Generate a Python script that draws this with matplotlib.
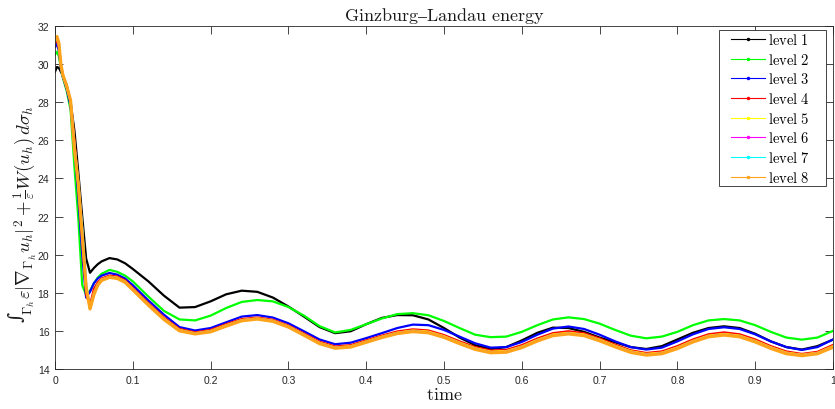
import matplotlib
matplotlib.use("Agg")
import matplotlib.pyplot as plt
from matplotlib.lines import Line2D
from matplotlib.patches import Rectangle

plt.rcParams['mathtext.fontset'] = 'cm'

time = [0, 0.0025, 0.005, 0.0075, 0.01, 0.015, 0.02, 0.025, 0.03, 0.035, 0.04, 0.045,
        0.05, 0.055, 0.06, 0.07, 0.08, 0.09,
        0.10, 0.12, 0.14, 0.16, 0.18, 0.20, 0.22, 0.24, 0.26, 0.28, 0.30, 0.32, 0.34,
        0.36, 0.38, 0.40, 0.42, 0.44, 0.46, 0.48, 0.50, 0.52, 0.54, 0.56, 0.58, 0.60,
        0.62, 0.64, 0.66, 0.68, 0.70, 0.72, 0.74, 0.76, 0.78, 0.80, 0.82, 0.84, 0.86,
        0.88, 0.90, 0.92, 0.94, 0.96, 0.98, 1.00]

level1 = [29.6, 29.85, 29.8, 29.6, 29.4, 28.9, 28.0, 26.5, 24.3, 22.0, 19.8, 19.05,
          19.3, 19.5, 19.65, 19.82, 19.75, 19.55,
          19.25, 18.6, 17.85, 17.22, 17.25, 17.55, 17.92, 18.11, 18.05, 17.75, 17.28, 16.75, 16.2,
          15.88, 15.98, 16.35, 16.68, 16.83, 16.82, 16.6, 16.15, 15.65, 15.25, 15.05, 15.15, 15.5,
          15.9, 16.17, 16.15, 15.95, 15.65, 15.4, 15.15, 15.05, 15.2, 15.55, 15.9, 16.15, 16.24,
          16.15, 15.85, 15.45, 15.15, 15.02, 15.2, 15.54]

level2 = [30.5, 30.65, 30.4, 29.8, 29.3, 28.6, 27.6, 24.6, 21.9, 18.4, 17.88, 18.1,
          18.5, 18.8, 19.0, 19.2, 19.1, 18.9,
          18.6, 17.8, 17.05, 16.6, 16.55, 16.8, 17.2, 17.52, 17.62, 17.55, 17.25, 16.8, 16.25,
          15.92, 16.05, 16.35, 16.65, 16.88, 16.93, 16.82, 16.52, 16.15, 15.8, 15.67, 15.7, 15.95,
          16.3, 16.6, 16.71, 16.62, 16.38, 16.05, 15.75, 15.61, 15.7, 15.95, 16.3, 16.55, 16.62,
          16.55, 16.3, 15.95, 15.65, 15.54, 15.65, 16.0]

level3 = [30.9, 31.05, 30.7, 29.8, 29.35, 28.7, 27.8, 25.6, 23.0, 20.0, 17.75, 18.05,
          18.5, 18.75, 18.9, 19.04, 18.95, 18.75,
          18.4, 17.6, 16.85, 16.2, 16.02, 16.15, 16.45, 16.75, 16.83, 16.7, 16.4, 15.98, 15.55,
          15.3, 15.38, 15.62, 15.88, 16.15, 16.33, 16.3, 16.05, 15.7, 15.35, 15.12, 15.15, 15.42,
          15.8, 16.12, 16.23, 16.1, 15.8, 15.45, 15.15, 15.02, 15.12, 15.45, 15.82, 16.1, 16.19,
          16.1, 15.82, 15.45, 15.15, 15.0, 15.15, 15.55]

level4 = [31.1, 31.28, 30.9, 29.9, 29.4, 28.8, 28.0, 26.0, 23.5, 20.8, 17.9, 17.35,
          18.2, 18.55, 18.75, 18.9, 18.85, 18.65,
          18.25, 17.45, 16.7, 16.1, 15.92, 16.05, 16.35, 16.62, 16.7, 16.58, 16.28, 15.86, 15.43,
          15.18, 15.25, 15.5, 15.75, 15.97, 16.08, 16.02, 15.78, 15.45, 15.15, 14.97, 15.0, 15.25,
          15.6, 15.88, 15.98, 15.88, 15.6, 15.28, 14.98, 14.84, 14.92, 15.2, 15.55, 15.82, 15.92,
          15.82, 15.55, 15.2, 14.92, 14.79, 14.9, 15.26]

level5 = [31.2, 31.36, 31.0, 29.95, 29.42, 28.82, 28.05, 25.8, 23.7, 21.2, 18.2, 17.22,
          18.0, 18.45, 18.7, 18.85, 18.8, 18.6,
          18.2, 17.4, 16.65, 16.05, 15.88, 16.0, 16.3, 16.57, 16.66, 16.54, 16.24, 15.81, 15.38,
          15.13, 15.2, 15.45, 15.7, 15.91, 16.02, 15.96, 15.72, 15.39, 15.09, 14.91, 14.94, 15.18,
          15.53, 15.81, 15.9, 15.81, 15.54, 15.22, 14.93, 14.79, 14.86, 15.13, 15.48, 15.75, 15.84,
          15.75, 15.48, 15.14, 14.86, 14.75, 14.85, 15.2]

level6 = [31.25, 31.4, 31.05, 29.98, 29.44, 28.84, 28.08, 25.7, 23.75, 21.3, 18.4, 17.18,
          17.95, 18.42, 18.67, 18.83, 18.77, 18.57,
          18.17, 17.37, 16.62, 16.02, 15.86, 15.97, 16.27, 16.55, 16.64, 16.52, 16.22, 15.79, 15.35,
          15.11, 15.17, 15.42, 15.67, 15.88, 15.98, 15.92, 15.68, 15.35, 15.05, 14.87, 14.9, 15.14,
          15.49, 15.77, 15.86, 15.77, 15.5, 15.18, 14.89, 14.75, 14.82, 15.09, 15.44, 15.71, 15.8,
          15.71, 15.44, 15.1, 14.82, 14.72, 14.82, 15.16]

level7 = [31.28, 31.43, 31.08, 29.99, 29.45, 28.85, 28.1, 25.6, 23.75, 21.4, 18.45, 17.16,
          17.92, 18.4, 18.66, 18.82, 18.76, 18.56,
          18.16, 17.36, 16.61, 16.01, 15.85, 15.96, 16.26, 16.54, 16.63, 16.51, 16.21, 15.78, 15.34,
          15.1, 15.16, 15.41, 15.66, 15.87, 15.97, 15.91, 15.67, 15.34, 15.04, 14.86, 14.89, 15.13,
          15.48, 15.76, 15.85, 15.76, 15.49, 15.17, 14.88, 14.74, 14.81, 15.08, 15.43, 15.7, 15.79,
          15.7, 15.43, 15.09, 14.81, 14.71, 14.81, 15.15]

level8 = [31.3, 31.45, 31.1, 30.0, 29.45, 28.85, 28.1, 25.5, 23.7, 21.0, 18.3, 17.15,
          17.9, 18.4, 18.65, 18.81, 18.75, 18.55,
          18.15, 17.35, 16.6, 16.0, 15.84, 15.95, 16.25, 16.53, 16.62, 16.5, 16.2, 15.77, 15.33,
          15.09, 15.15, 15.4, 15.65, 15.86, 15.96, 15.9, 15.66, 15.33, 15.03, 14.85, 14.88, 15.12,
          15.47, 15.75, 15.84, 15.75, 15.48, 15.16, 14.87, 14.73, 14.8, 15.07, 15.42, 15.69, 15.78,
          15.69, 15.42, 15.08, 14.8, 14.7, 14.8, 15.14]

series = [level1, level2, level3, level4, level5, level6, level7, level8]
labels = ['level 1', 'level 2', 'level 3', 'level 4', 'level 5', 'level 6', 'level 7', 'level 8']
colors = ['#000000', '#00ff00', '#0000ff', '#ff0000', '#ffff00', '#ff00ff', '#00ffff', '#ffa31a']
widths = [1.6, 1.6, 1.6, 1.6, 1.6, 1.6, 1.6, 2.3]

xticks = [0, 0.1, 0.2, 0.3, 0.4, 0.5, 0.6, 0.7, 0.8, 0.9, 1]
xticklabels = ['0', '0.1', '0.2', '0.3', '0.4', '0.5', '0.6', '0.7', '0.8', '0.9', '1']
yticks = [14, 16, 18, 20, 22, 24, 26, 28, 30, 32]

W, H = 835, 410
fig = plt.figure(figsize=(W / 100, H / 100), dpi=100)
ax = fig.add_axes([55 / W, 1 - 370 / H, 778 / W, 343 / H])

for y, c, lw in zip(series, colors, widths):
    ax.plot(time, y, color=c, lw=lw, solid_joinstyle='round')

ax.set_xlim(0, 1)
ax.set_ylim(14, 32)
ax.set_xticks(xticks)
ax.set_xticklabels(xticklabels)
ax.set_yticks(yticks)

tc = '#262626'
for s in ax.spines.values():
    s.set_color(tc)
    s.set_linewidth(0.6)
ax.tick_params(direction='in', length=5.5, width=0.6, colors=tc, labelsize=7.5,
               top=True, right=True, pad=4)
for lab in ax.get_xticklabels() + ax.get_yticklabels():
    lab.set_family('Liberation Sans')

ax.set_title(r'$\mathrm{Ginzburg–Landau\ energy}$', fontsize=13, pad=4, color='#1a1a1a')
ax.set_xlabel(r'$\mathrm{time}$', fontsize=13, labelpad=0, color='#1a1a1a')

# y label, drawn in pieces so the tall integral sign keeps a compact box
fig.text(17 / W, 1 - 317 / H, '\u222b', family='DejaVu Serif', fontsize=14,
         color='#1a1a1a', rotation=90, ha='center', va='center', rotation_mode='default')
fig.text(29 / W, 1 - 307 / H, r'$\Gamma_h$', fontsize=9.5, color='#1a1a1a',
         rotation=90, ha='center', va='center', rotation_mode='default')
fig.text(25 / W, 1 - 299 / H,
         r'$\varepsilon|\nabla_{\Gamma_h}u_h|^2+\frac{1}{\varepsilon}W(u_h)\,d\sigma_h$',
         fontsize=13.5, color='#1a1a1a', rotation=90, ha='center', va='bottom',
         rotation_mode='default')

# legend frame at the reference position (figure pixels)
frame = Rectangle((719 / W, 1 - 187 / H), 107 / W, 156 / H, transform=fig.transFigure,
                  facecolor='white', edgecolor=tc, linewidth=0.6, zorder=4)
fig.add_artist(frame)

handles = [Line2D([0], [0], color=c, lw=0.8, marker='.', markersize=3) for c in colors]
leg = fig.legend(handles, [r'$\mathrm{' + l.replace(' ', r'\ ') + '}$' for l in labels],
                 loc='upper left', bbox_to_anchor=(731 / W, 1 - 33 / H), borderaxespad=0,
                 fontsize=10.5, handlelength=2.3, handletextpad=0.25, labelspacing=0.32,
                 frameon=False, borderpad=0)
leg.set_zorder(5)

fig.savefig('out.png', dpi=100)
